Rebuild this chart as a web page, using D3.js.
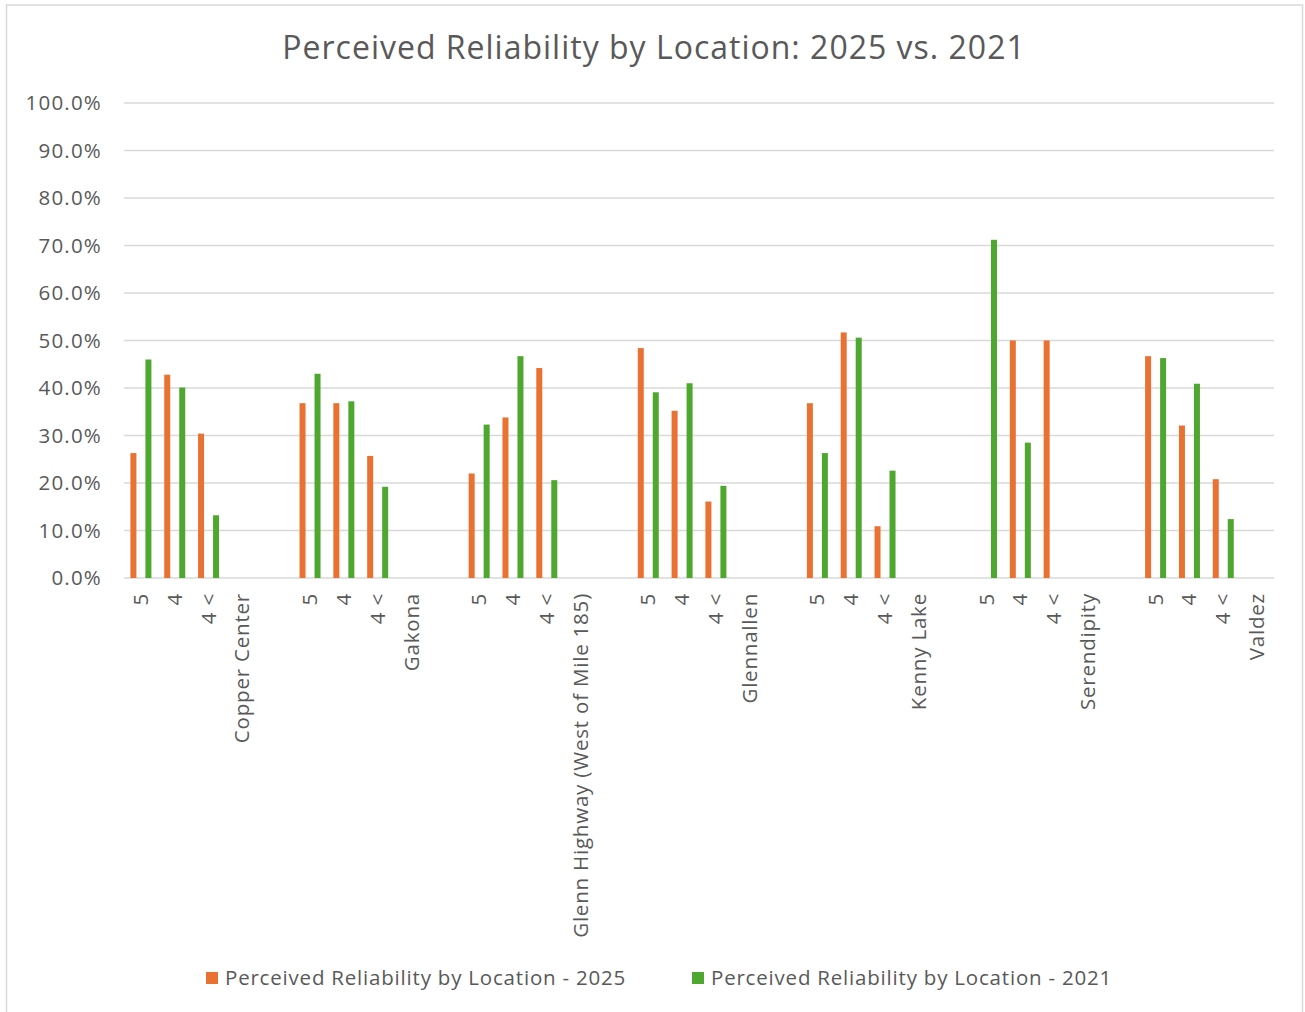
<!DOCTYPE html>
<html>
<head>
<meta charset="utf-8">
<script src="https://cdn.jsdelivr.net/npm/d3@7"></script>
<style>
  body { margin: 0; background: #fff; }
  text { font-family: "Open Sans", "Liberation Sans", Arial, sans-serif; fill: #595959; }
</style>
</head>
<body>
<script>
// chart data
var locations = ['Copper Center', 'Gakona', 'Glenn Highway (West of Mile 185)', 'Glennallen', 'Kenny Lake', 'Serendipity', 'Valdez'];
var ratings = ['5', '4', '4 <'];
var seriesNames = ['Perceived Reliability by Location - 2025', 'Perceived Reliability by Location - 2021'];
// one row per location, values for 5 / 4 / 4 <   (null = no bar)
var values2025 = [
  [26.3, 42.8, 30.4],
  [36.8, 36.8, 25.7],
  [22.0, 33.8, 44.2],
  [48.4, 35.2, 16.1],
  [36.8, 51.7, 10.9],
  [null, 50.0, 50.0],
  [46.7, 32.1, 20.8]
];
var values2021 = [
  [46.0, 40.1, 13.2],
  [43.0, 37.2, 19.2],
  [32.3, 46.7, 20.6],
  [39.1, 41.0, 19.4],
  [26.3, 50.6, 22.6],
  [71.2, 28.5, null],
  [46.3, 40.9, 12.4]
];
var yTicks = [0, 10, 20, 30, 40, 50, 60, 70, 80, 90, 100];
var colors = ['#E97132', '#4EA72E'];

var width = 1305, height = 1012;
var plotLeft = 124, plotRight = 1274, plotTop = 103, plotBottom = 578;

// flatten into excel-like rows: 5, 4, 4 <, location name, blank
var rows = [];
locations.forEach(function(loc, i) {
  ratings.forEach(function(r, j) {
    rows.push({ label: r, v: [values2025[i][j], values2021[i][j]] });
  });
  rows.push({ label: loc, v: [null, null] });
  if (i < locations.length - 1) rows.push({ label: '', v: [null, null] });
});

var svg = d3.select('body').append('svg')
  .attr('width', width)
  .attr('height', height);

svg.append('rect')
  .attr('x', 6.5).attr('y', 5).attr('width', 1296).attr('height', 1020)
  .attr('fill', 'none').attr('stroke', '#D9D9D9').attr('stroke-width', 1.5);

svg.append('text')
  .attr('x', 654).attr('y', 59)
  .attr('text-anchor', 'middle')
  .style('font-size', '32px')
  .style('letter-spacing', '1px')
  .text('Perceived Reliability by Location: 2025 vs. 2021');

var x0 = d3.scaleBand().domain(d3.range(rows.length)).range([plotLeft, plotRight]);
var bw = x0.bandwidth();
var x1 = d3.scaleBand().domain([0, 1]).range([bw / 2 - 10.5, bw / 2 + 10.5]).paddingInner(0.6);
var y = d3.scaleLinear().domain([0, 100]).range([plotBottom, plotTop]);

// gridlines
svg.append('g').selectAll('line')
  .data(yTicks)
  .enter().append('line')
  .attr('x1', plotLeft).attr('x2', plotRight)
  .attr('y1', function(d) { return y(d); })
  .attr('y2', function(d) { return y(d); })
  .attr('stroke', '#D9D9D9').attr('stroke-width', 1.5);

// y axis labels
var yAxis = d3.axisLeft(y).tickValues(yTicks).tickSize(0).tickPadding(22)
  .tickFormat(function(d) { return d.toFixed(1) + '%'; });
var gy = svg.append('g').attr('transform', 'translate(' + plotLeft + ',0)').call(yAxis);
gy.select('.domain').remove();
gy.selectAll('text')
  .style('font-size', '20.5px').style('letter-spacing', '1.2px')
  .style('font-family', null).attr('fill', '#595959');

// bars
var groups = svg.append('g').selectAll('g')
  .data(rows)
  .enter().append('g')
  .attr('transform', function(d, i) { return 'translate(' + x0(i) + ',0)'; });

groups.selectAll('rect')
  .data(function(d) { return d.v.map(function(v, k) { return { k: k, v: v }; }).filter(function(e) { return e.v != null; }); })
  .enter().append('rect')
  .attr('x', function(d) { return x1(d.k); })
  .attr('width', x1.bandwidth())
  .attr('y', function(d) { return y(d.v); })
  .attr('height', function(d) { return plotBottom - y(d.v); })
  .attr('fill', function(d) { return colors[d.k]; });

// category labels, rotated
svg.append('g').selectAll('text')
  .data(rows)
  .enter().append('text')
  .attr('transform', function(d, i) { return 'translate(' + (x0(i) + bw / 2 + 7) + ',593) rotate(-90)'; })
  .attr('text-anchor', 'end')
  .style('font-size', '20.5px')
  .style('letter-spacing', '0.8px')
  .text(function(d) { return d.label; });

// legend
var legendX = [206, 692];
var legend = svg.append('g').selectAll('g')
  .data(seriesNames)
  .enter().append('g')
  .attr('transform', function(d, i) { return 'translate(' + legendX[i] + ',972)'; });
legend.append('rect')
  .attr('width', 12).attr('height', 12)
  .attr('fill', function(d, i) { return colors[i]; });
legend.append('text')
  .attr('x', 19).attr('y', 13)
  .style('font-size', '20.5px')
  .style('letter-spacing', '0.8px')
  .text(function(d) { return d; });
</script>
</body>
</html>
